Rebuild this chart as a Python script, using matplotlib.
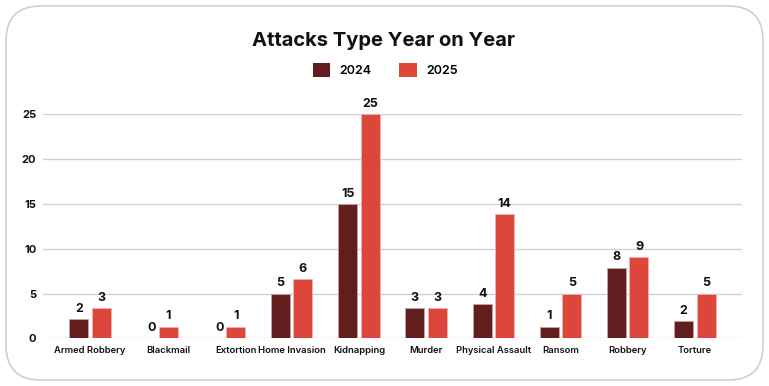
import numpy as np
import matplotlib
matplotlib.use('Agg')
import matplotlib.pyplot as plt
from matplotlib.patches import Patch, FancyBboxPatch

# [1] Data
categories = ['Armed Robbery', 'Blackmail', 'Extortion', 'Home Invasion', 'Kidnapping',
              'Murder', 'Physical Assault', 'Ransom', 'Robbery', 'Torture']
heights_2024 = [2.1, 0, 0, 5.0, 15, 3.4, 3.8, 1.3, 7.9, 1.95]
heights_2025 = [3.35, 1.3, 1.3, 6.6, 25, 3.4, 13.9, 5, 9.1, 5]
labels_2024 = ['2', '0', '0', '5', '15', '3', '4', '1', '8', '2']
labels_2025 = ['3', '1', '1', '6', '25', '3', '14', '5', '9', '5']
years = ['2024', '2025']
y_ticks = [0, 5, 10, 15, 20, 25]

# [2] Style
color_2024 = '#621d1f'
color_2025 = '#dd463b'
grid_color = '#d2d2d2'
bar_w = 0.283
offset = 0.167

plt.rcParams['font.family'] = ['Inter', 'DejaVu Sans']

fig = plt.figure(figsize=(7.69, 3.86), dpi=100)

# rounded card border (behind the axes)
card = FancyBboxPatch((6 / 769, 6 / 386), 757 / 769, 374 / 386,
                      boxstyle='round,pad=0,rounding_size=0.045',
                      transform=fig.transFigure, facecolor='white',
                      edgecolor='#cfcfcf', linewidth=1.2, mutation_aspect=769 / 386,
                      zorder=-5)
fig.patches.append(card)

ax = fig.add_axes([43.3 / 769, 47.7 / 386, (742 - 43.3) / 769, 224 / 386])
ax.set_facecolor('none')

x = np.arange(len(categories))
h24 = np.array(heights_2024)
h25 = np.array(heights_2025)

ax.bar(x - offset, h24, width=bar_w, color=color_2024, edgecolor='#c9a3a3',
       linewidth=0.6, zorder=3)
ax.bar(x + offset, h25, width=bar_w, color=color_2025, edgecolor='#f3b3ad',
       linewidth=0.6, zorder=3)

# value labels
for i in range(len(categories)):
    xa = x[i] - offset + (0.09 if h24[i] == 0 else 0)
    ax.annotate(labels_2024[i], (xa, h24[i]), xytext=(0, 3), textcoords='offset points',
                ha='center', va='bottom', fontsize=9, fontweight='bold', color='#111111')
    ax.annotate(labels_2025[i], (x[i] + offset, h25[i]), xytext=(0, 3),
                textcoords='offset points', ha='center', va='bottom', fontsize=9,
                fontweight='bold', color='#111111')

# tick labels sit under the bars that are actually drawn
tick_pos = []
for i in range(len(categories)):
    pos = [p for p, h in ((x[i] - offset, h24[i]), (x[i] + offset, h25[i])) if h > 0]
    tick_pos.append(np.mean(pos))
ax.set_xticks(tick_pos)
ax.set_xticklabels(categories, fontsize=6.8, fontweight='semibold', color='#111111')
ax.set_yticks(y_ticks)
ax.set_yticklabels([str(t) for t in y_ticks], fontsize=8, fontweight='bold', color='#111111')
ax.tick_params(axis='both', length=0)
ax.tick_params(axis='y', pad=5)
ax.tick_params(axis='x', pad=5.5)

ax.set_xlim(-0.695, 9.70)
ax.set_ylim(0, 25)
ax.grid(axis='y', color=grid_color, linewidth=1, zorder=0)
for s in ax.spines.values():
    s.set_visible(False)

fig.text(383 / 769, 1 - 41 / 386, 'Attacks Type Year on Year', ha='center', va='center',
         fontsize=14.5, fontweight='bold', color='#111111')

handles = [Patch(facecolor=color_2024), Patch(facecolor=color_2025)]
fig.legend(handles, years, loc='center', bbox_to_anchor=(385 / 769, 1 - 70 / 386), ncol=2,
           frameon=False, handlelength=1.4, handleheight=1.4,
           handletextpad=0.75, columnspacing=2.2, prop={'weight': 'semibold', 'size': 9})

plt.savefig('out.png', dpi=100)
